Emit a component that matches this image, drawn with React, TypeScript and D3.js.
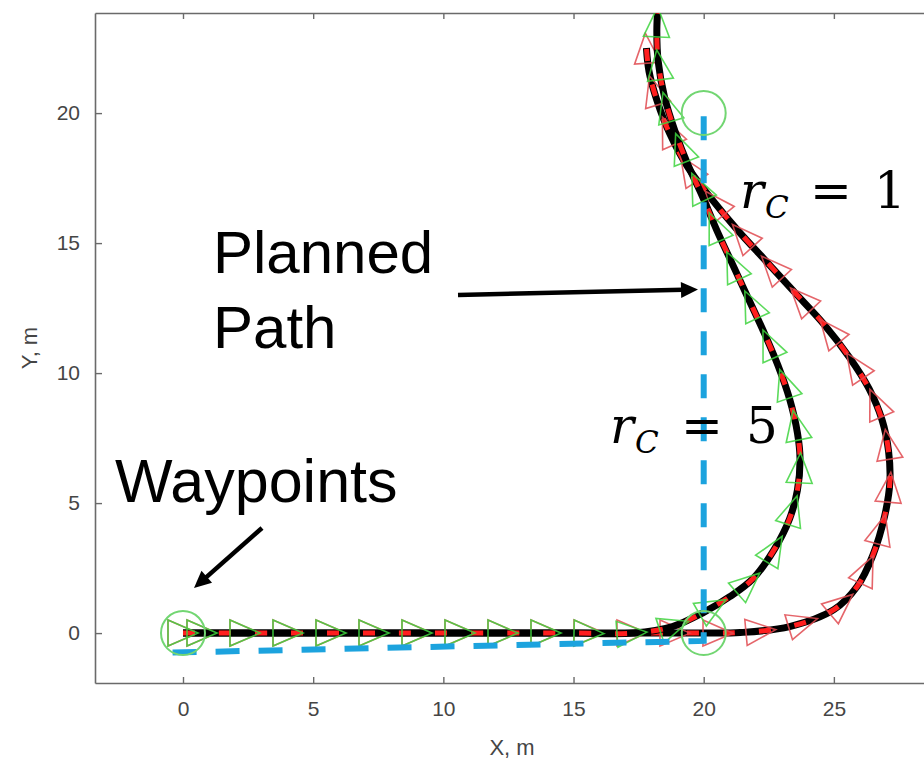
import React, { useEffect, useRef } from "react";
import * as d3 from "d3";

const W = 924;
const H = 762;

// Axis ticks
const xTicks = [0, 5, 10, 15, 20, 25];
const yTicks = [0, 5, 10, 15, 20];

// Waypoints (m)
const waypointX = [0, 20, 20];
const waypointY = [0, 0, 20];

// Planned path through the waypoints (m)
const plannedX = [-0.4, 20, 20];
const plannedY = [-0.75, -0.3, 20.2];

// Followed trajectory, capture radius r_C = 5 (m)
const pathR5X = [0, 4, 8, 12, 15, 17.3, 18.8, 20, 21, 21.9, 22.7, 23.3, 23.6, 23.7, 23.6, 23.3, 22.85, 22.3, 21.7, 21.1, 20.5, 19.95, 19.4, 18.9, 18.5, 18.25, 18.2, 18.25];
const pathR5Y = [0, 0, 0, 0, 0, 0, 0.25, 0.8, 1.4, 2.1, 3.2, 4.4, 5.5, 6.7, 7.7, 9.0, 10.3, 11.6, 12.9, 14.2, 15.5, 16.8, 18.0, 19.3, 20.6, 22.0, 23.2, 24.2];

// Followed trajectory, capture radius r_C = 1 (m)
const pathR1X = [0, 4, 8, 12, 16, 18.5, 20, 21.4, 23.3, 25, 25.9, 26.5, 26.95, 27.15, 27.1, 26.85, 26.35, 25.6, 24.6, 23.5, 22.4, 21.3, 20.3, 19.4, 18.7, 18.2, 17.9, 17.8];
const pathR1Y = [0, 0, 0, 0, 0, 0, 0, 0.02, 0.25, 0.9, 1.8, 3.0, 4.5, 5.8, 7.0, 8.2, 9.4, 10.6, 11.9, 13.1, 14.3, 15.5, 16.7, 17.9, 19.2, 20.5, 21.6, 22.5];

// Marker styling
const MARKER_SPACING = 43; // px along the trajectory
const MARKER_FIRST = 19;
const MARKER_LEN = 30;
const MARKER_HALF_BASE = 13;

export default function App() {
  const ref = useRef<SVGSVGElement | null>(null);

  useEffect(() => {
    const svg = d3.select(ref.current);
    svg.selectAll("*").remove();

    const x = d3.scaleLinear().domain([-3.38, 28.5]).range([95, 925]);
    const y = d3.scaleLinear().domain([-1.92, 23.85]).range([683, 13]);

    const fontSans = "'Liberation Sans', Arial, sans-serif";
    const fontSerif = "'DejaVu Serif', 'Liberation Serif', serif";
    const axisColor = "#6a6a6a";
    const tickColor = "#454545";

    svg.append("rect").attr("width", W).attr("height", H).attr("fill", "#fff");

    const defs = svg.append("defs");
    defs
      .append("clipPath")
      .attr("id", "plotClip")
      .append("rect")
      .attr("x", 95)
      .attr("y", 13)
      .attr("width", 830)
      .attr("height", 670);

    // Axes
    const bottom = svg
      .append("g")
      .attr("transform", "translate(0,683)")
      .call(d3.axisBottom(x).tickValues(xTicks).tickSize(-6).tickSizeOuter(0).tickPadding(18));
    const top = svg
      .append("g")
      .attr("transform", "translate(0,13)")
      .call(d3.axisTop(x).tickValues(xTicks).tickSize(-6).tickSizeOuter(0).tickFormat(() => ""));
    const left = svg
      .append("g")
      .attr("transform", "translate(95,0)")
      .call(d3.axisLeft(y).tickValues(yTicks).tickSize(-7).tickSizeOuter(0).tickPadding(15));
    [bottom, top, left].forEach((g) => {
      g.selectAll("path.domain").attr("stroke", axisColor).attr("stroke-width", 1.6);
      g.selectAll(".tick line").attr("stroke", axisColor).attr("stroke-width", 1.4);
      g.selectAll(".tick text")
        .attr("fill", tickColor)
        .style("font-family", fontSans)
        .style("font-size", "21px");
    });

    svg
      .append("text")
      .attr("x", 512)
      .attr("y", 755)
      .attr("text-anchor", "middle")
      .attr("fill", tickColor)
      .style("font-family", fontSans)
      .style("font-size", "22px")
      .text("X, m");
    svg
      .append("text")
      .attr("transform", "translate(37,348) rotate(-90)")
      .attr("text-anchor", "middle")
      .attr("fill", tickColor)
      .style("font-family", fontSans)
      .style("font-size", "22px")
      .text("Y, m");

    const plot = svg.append("g").attr("clip-path", "url(#plotClip)");

    const line = d3
      .line<[number, number]>()
      .x((d) => x(d[0]))
      .y((d) => y(d[1]))
      .curve(d3.curveCatmullRom.alpha(0.5));

    const drawTrajectory = (xs: number[], ys: number[], markerColor: string) => {
      const pts: [number, number][] = xs.map((v, i) => [v, ys[i]]);
      const g = plot.append("g");
      const base = g
        .append("path")
        .attr("d", line(pts))
        .attr("fill", "none")
        .attr("stroke", "#000")
        .attr("stroke-width", 7)
        .attr("stroke-linejoin", "round");
      g.append("path")
        .attr("d", line(pts))
        .attr("fill", "none")
        .attr("stroke", "#ff1e1e")
        .attr("stroke-width", 5)
        .attr("stroke-dasharray", "12 24");

      const node = base.node() as SVGPathElement;
      const total = node.getTotalLength();
      const stations: number[] = [0];
      for (let s = MARKER_FIRST; s <= total; s += MARKER_SPACING) stations.push(s);
      const tris = stations.map((s) => {
        const p = node.getPointAtLength(s);
        const a = node.getPointAtLength(Math.max(0, s - 2));
        const b = node.getPointAtLength(Math.min(total, s + 2));
        let ux = b.x - a.x;
        let uy = b.y - a.y;
        const n = Math.hypot(ux, uy) || 1;
        ux /= n;
        uy /= n;
        const nx = -uy;
        const ny = ux;
        const h = MARKER_LEN / 2;
        const tip = [p.x + h * ux, p.y + h * uy];
        const b1 = [p.x - h * ux + MARKER_HALF_BASE * nx, p.y - h * uy + MARKER_HALF_BASE * ny];
        const b2 = [p.x - h * ux - MARKER_HALF_BASE * nx, p.y - h * uy - MARKER_HALF_BASE * ny];
        return [tip, b1, b2];
      });
      g.selectAll("polygon")
        .data(tris)
        .join("polygon")
        .attr("points", (d) => d.map((q) => q.join(",")).join(" "))
        .attr("fill", "none")
        .attr("stroke", markerColor)
        .attr("stroke-width", 1.6)
        .attr("stroke-opacity", 0.85);
    };

    drawTrajectory(pathR1X, pathR1Y, "#e04a50");
    drawTrajectory(pathR5X, pathR5Y, "#3ed43e");

    // Planned path
    const planned: [number, number][] = plannedX.map((v, i) => [v, plannedY[i]]);
    plot
      .append("path")
      .attr("d", d3.line<[number, number]>().x((d) => x(d[0])).y((d) => y(d[1]))(planned))
      .attr("fill", "none")
      .attr("stroke", "#1ca3de")
      .attr("stroke-width", 6)
      .attr("stroke-dasharray", "24 19");

    // Waypoints
    plot
      .selectAll("circle.wp")
      .data(waypointX.map((v, i) => [v, waypointY[i]]))
      .join("circle")
      .attr("class", "wp")
      .attr("cx", (d) => x(d[0]))
      .attr("cy", (d) => y(d[1]))
      .attr("r", 22)
      .attr("fill", "none")
      .attr("stroke", "#72d672")
      .attr("stroke-width", 2);

    // Annotations
    const arrow = (x1: number, y1: number, x2: number, y2: number) => {
      const dx = x2 - x1;
      const dy = y2 - y1;
      const n = Math.hypot(dx, dy);
      const ux = dx / n;
      const uy = dy / n;
      const hl = 17;
      const hw = 8;
      const bx = x2 - hl * ux;
      const by = y2 - hl * uy;
      svg
        .append("line")
        .attr("x1", x1)
        .attr("y1", y1)
        .attr("x2", bx + 2 * ux)
        .attr("y2", by + 2 * uy)
        .attr("stroke", "#000")
        .attr("stroke-width", 4.5);
      svg
        .append("polygon")
        .attr(
          "points",
          `${x2},${y2} ${bx - hw * uy},${by + hw * ux} ${bx + hw * uy},${by - hw * ux}`
        )
        .attr("fill", "#000");
    };
    arrow(458, 295, 698, 289.5);
    arrow(262, 528, 194, 588);

    const label = (t: string, tx: number, ty: number, size: number) =>
      svg
        .append("text")
        .attr("x", tx)
        .attr("y", ty)
        .attr("fill", "#000")
        .style("font-family", fontSans)
        .style("font-size", `${size}px`)
        .text(t);
    label("Planned", 213, 273, 60);
    label("Path", 213, 348, 60);
    label("Waypoints", 115, 502, 61);

    const rc = (rx: number, base: number, value: string, eqX: number, numX: number) => {
      const g = svg.append("g").attr("fill", "#000").style("font-family", fontSerif);
      g.append("text").attr("x", rx).attr("y", base).style("font-size", "50px").style("font-style", "italic").text("r");
      g.append("text").attr("x", rx + 25).attr("y", base + 10).style("font-size", "31px").style("font-style", "italic").text("C");
      g.append("text").attr("x", eqX).attr("y", base).style("font-size", "50px").text("=");
      g.append("text").attr("x", numX).attr("y", base).style("font-size", "50px").text(value);
    };
    rc(740, 208, "1", 810, 874);
    rc(610, 443, "5", 681, 746);
  }, []);

  return (
    <svg
      ref={ref}
      width={W}
      height={H}
      viewBox={`0 0 ${W} ${H}`}
      style={{ position: "absolute", left: 0, top: 0, display: "block" }}
    />
  );
}
